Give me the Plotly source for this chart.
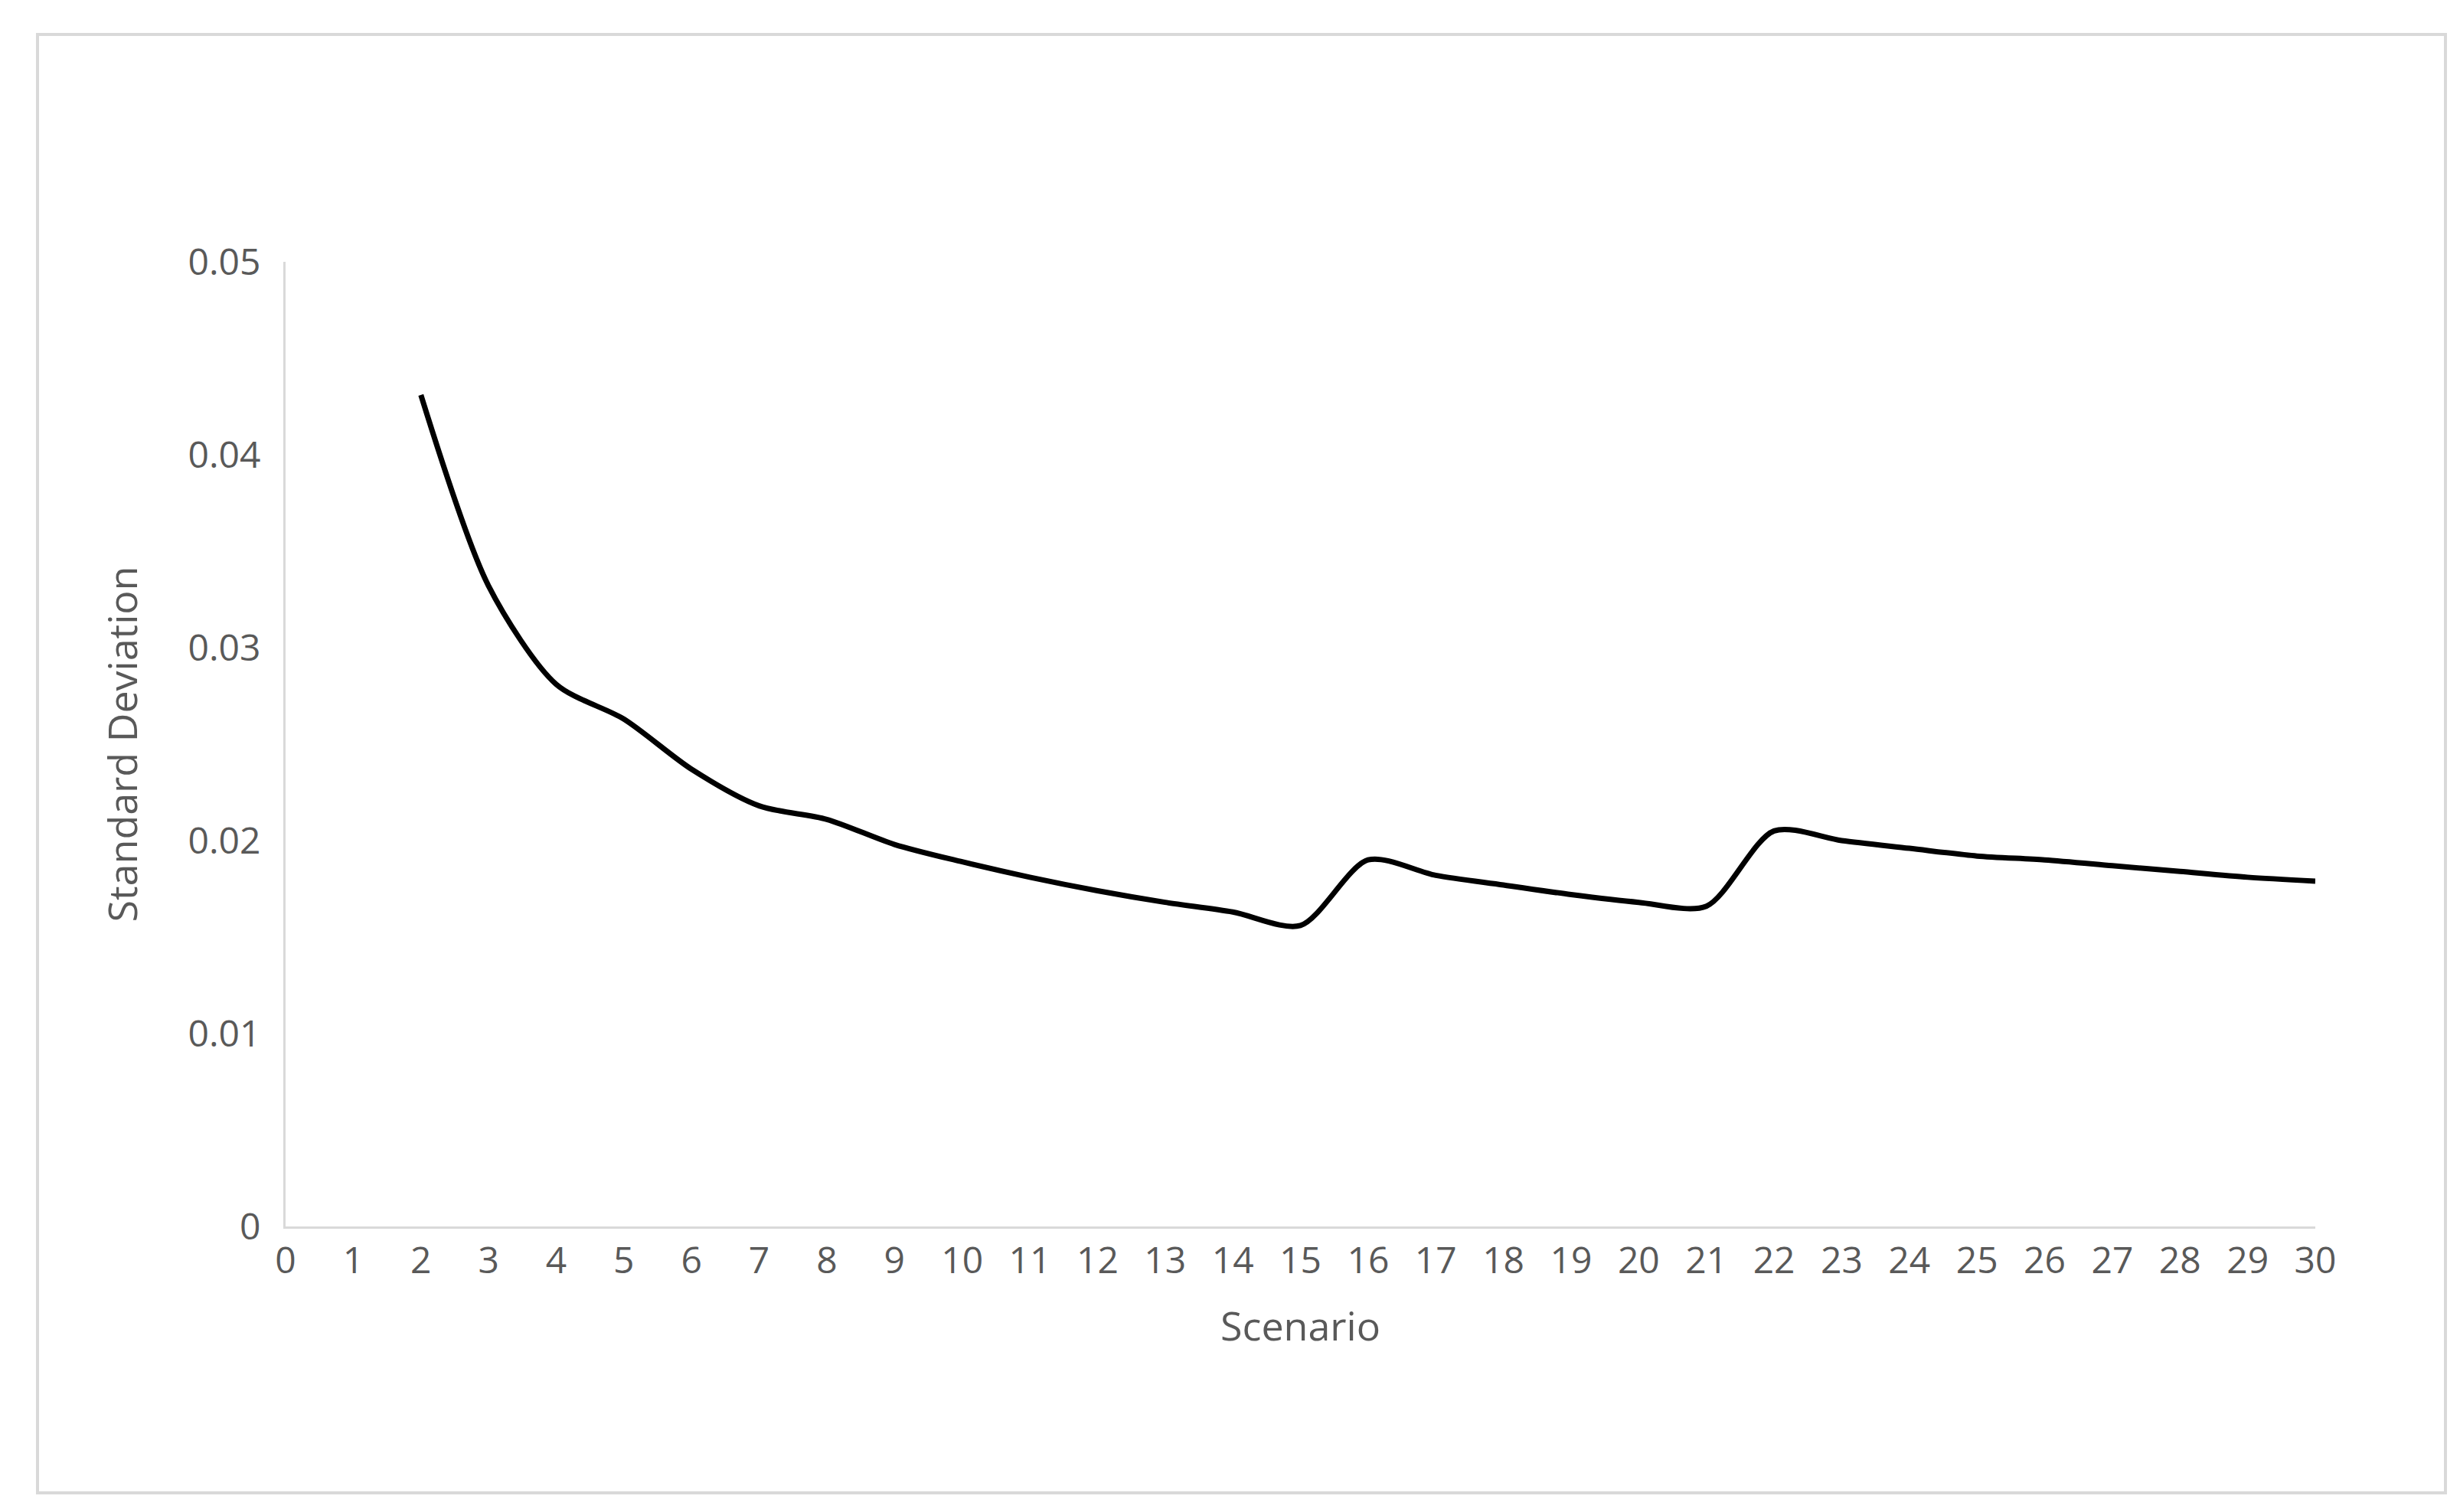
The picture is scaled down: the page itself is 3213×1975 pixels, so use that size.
import plotly.graph_objects as go

scenarios = list(range(2, 31))
std_dev = [0.0431, 0.0332, 0.0281, 0.0263, 0.0237, 0.0218, 0.0211, 0.0198, 0.0189,
           0.0181, 0.0174, 0.0168, 0.0163, 0.0156, 0.0190, 0.0182, 0.0177, 0.0172,
           0.0168, 0.0166, 0.0205, 0.0200, 0.0196, 0.0192, 0.0190, 0.0187, 0.0184,
           0.0181, 0.0179]
x_ticks = list(range(0, 31))
y_ticks = [0, 0.01, 0.02, 0.03, 0.04, 0.05]
y_labels = ["0", "0.01", "0.02", "0.03", "0.04", "0.05"]

W, H = 3213, 1975
fig = go.Figure(go.Scatter(x=scenarios, y=std_dev, mode="lines",
                           line=dict(color="black", width=7, shape="spline", smoothing=0.8)))
grey = "#595959"
fig.update_layout(
    width=W, height=H, paper_bgcolor="white", plot_bgcolor="white",
    margin=dict(l=365, r=W - 3016, t=334, b=H - 1594),
    font=dict(family="Open Sans, DejaVu Sans", size=48, color=grey),
    showlegend=False,
    shapes=[dict(type="rect", xref="paper", yref="paper",
                 x0=(41 - 365) / (3016 - 365), x1=(3186 - 365) / (3016 - 365),
                 y0=(1594 - 1942) / (1594 - 334), y1=(1594 - 37) / (1594 - 334),
                 line=dict(color="#d9d9d9", width=4))],
)
fig.update_xaxes(range=[0, 30], tickvals=x_ticks, ticktext=[str(t) for t in x_ticks],
                 showgrid=False, showline=True, linecolor="#d9d9d9", linewidth=3,
                 zeroline=False, ticks="", title=dict(text="Scenario", font=dict(size=52, color=grey), standoff=40))
fig.update_yaxes(range=[0, 0.05], tickvals=y_ticks, ticktext=y_labels,
                 showgrid=False, showline=True, linecolor="#d9d9d9", linewidth=3,
                 zeroline=False, ticks="", ticklabelstandoff=20,
                 title=dict(text="Standard Deviation", font=dict(size=52, color=grey), standoff=50))
fig.write_html("out.html")
